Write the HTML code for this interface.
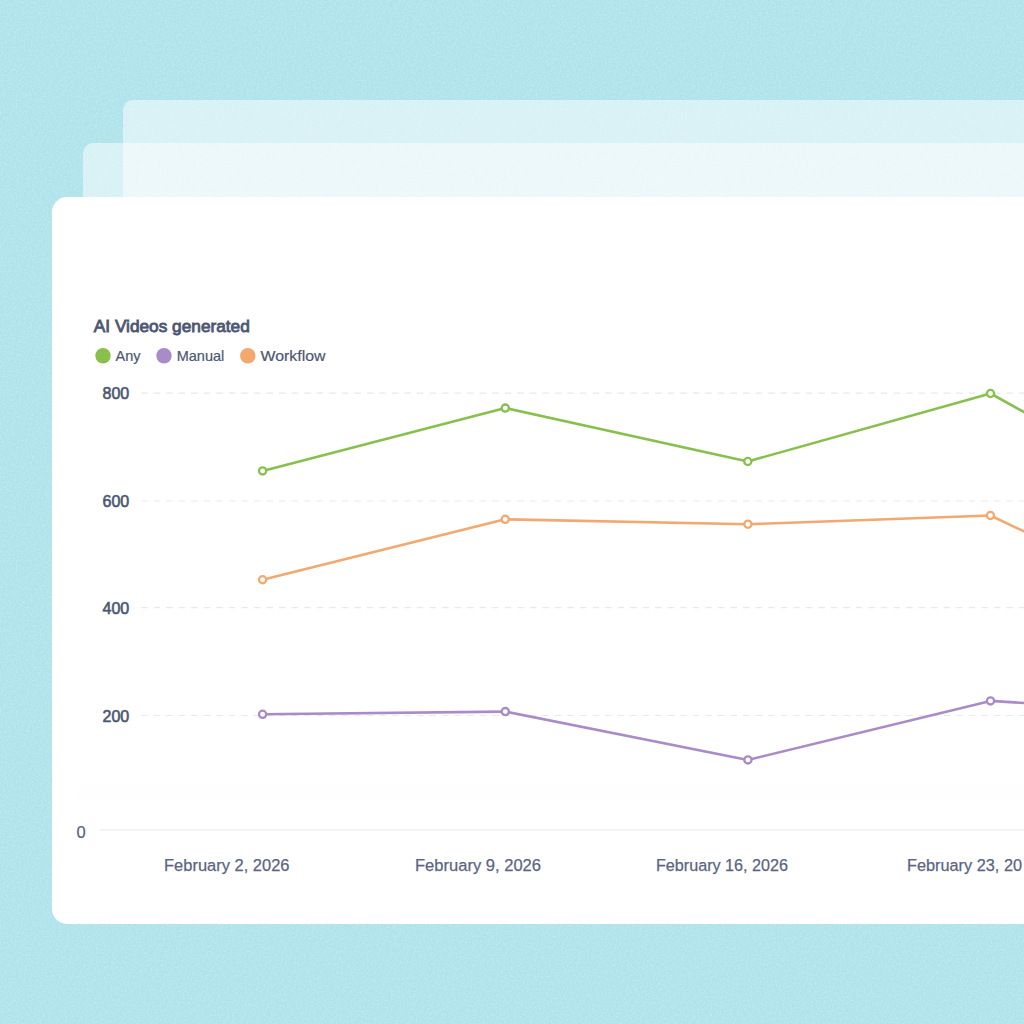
<!DOCTYPE html>
<html><head><meta charset="utf-8">
<style>
html,body{margin:0;padding:0;width:1024px;height:1024px;overflow:hidden;background:#afe3eb;font-family:"Liberation Sans",sans-serif;}
.bg{position:absolute;left:0;top:0;width:1024px;height:1024px;background:#afe3eb;}
.c2{position:absolute;left:123px;top:100px;width:1000px;height:300px;border-radius:10px;background:rgba(255,255,255,0.5);}
.c1{position:absolute;left:83px;top:143px;width:1000px;height:300px;border-radius:10px;background:rgba(255,255,255,0.5);}
.card{position:absolute;left:52px;top:197px;width:1100px;height:726.5px;border-radius:15px;background:#fff;}
svg{position:absolute;left:0;top:0;}
</style></head><body>
<div class="bg"></div>
<div class="c2"></div>
<div class="c1"></div>
<svg width="1024" height="1024" style="position:absolute;left:0;top:0">
  <filter id="nz" x="0" y="0" width="100%" height="100%">
    <feTurbulence type="fractalNoise" baseFrequency="0.55" numOctaves="2" seed="3" result="t"/>
    <feColorMatrix in="t" type="matrix" values="0 0 0 0 1  0 0 0 0 1  0 0 0 0 1  0.5 0 0 0 -0.2"/>
  </filter>
  <rect x="0" y="0" width="1024" height="1024" filter="url(#nz)"/>
</svg>
<div class="card"></div>
<svg width="1024" height="1024" viewBox="0 0 1024 1024">
  <!-- faint band -->
  <rect x="78" y="784" width="946" height="17" rx="6" fill="#000" opacity="0.003"/>
  <!-- grid -->
  <g stroke="#e9e9eb" stroke-width="1.2" stroke-dasharray="6.5 6.04" fill="none">
    <line x1="141.1" y1="393.2" x2="1024" y2="393.2"/>
    <line x1="141.1" y1="501" x2="1024" y2="501"/>
    <line x1="141.1" y1="607.6" x2="1024" y2="607.6"/>
    <line x1="141.1" y1="715.5" x2="1024" y2="715.5"/>
  </g>
  <line x1="99.8" y1="830" x2="1024" y2="830" stroke="#f1f3f7" stroke-width="2"/>
  <!-- title -->
  <text x="93.8" y="331.5" font-size="17.2" fill="#4c5773" stroke="#4c5773" stroke-width="0.85" textLength="156" lengthAdjust="spacingAndGlyphs">AI Videos generated</text>
  <!-- legend -->
  <circle cx="103" cy="355.8" r="7.7" fill="#88bf4d"/>
  <text x="115.5" y="361.3" font-size="14.5" fill="#4c5773" stroke="#4c5773" stroke-width="0.2">Any</text>
  <circle cx="164" cy="355.8" r="7.7" fill="#a98bc7"/>
  <text x="176.7" y="361.3" font-size="14.5" fill="#4c5773" stroke="#4c5773" stroke-width="0.2">Manual</text>
  <circle cx="247.8" cy="355.8" r="7.7" fill="#f2a86f"/>
  <text x="260.5" y="361.3" font-size="14.5" fill="#4c5773" stroke="#4c5773" stroke-width="0.2" textLength="65" lengthAdjust="spacingAndGlyphs">Workflow</text>
  <!-- y labels -->
  <g font-size="16" fill="#4c5773" stroke="#4c5773" stroke-width="0.6" text-anchor="end">
    <text x="129.2" y="399.3">800</text>
    <text x="129.2" y="506.6">600</text>
    <text x="129.2" y="613.9">400</text>
    <text x="129.2" y="721.9">200</text>
  </g>
  <text x="76.6" y="838.4" font-size="16.3" fill="#56607d" stroke="#56607d" stroke-width="0.2" textLength="9.2" lengthAdjust="spacingAndGlyphs">0</text>
  <!-- x labels -->
  <g font-size="16.8" fill="#5a6482" stroke="#5a6482" stroke-width="0.25">
    <text x="164" y="870.5" textLength="125.5" lengthAdjust="spacingAndGlyphs">February 2, 2026</text>
    <text x="415" y="870.5" textLength="126" lengthAdjust="spacingAndGlyphs">February 9, 2026</text>
    <text x="656" y="870.5" textLength="132" lengthAdjust="spacingAndGlyphs">February 16, 2026</text>
    <text x="907" y="870.5" textLength="115" lengthAdjust="spacingAndGlyphs">February 23, 20</text>
  </g>
  <!-- series -->
  <g fill="none" stroke-width="2.6" stroke-linejoin="round">
    <polyline stroke="#88bf4d" points="262.6,470.9 505.3,408.1 747.8,461.5 990.5,393.5 1040,421"/>
    <polyline stroke="#f2a86f" points="262.6,579.75 505.2,519.3 747.9,524.2 990.4,515.5 1040,539"/>
    <polyline stroke="#a98bc7" points="262.6,714.3 505.3,711.6 747.9,759.9 990.5,700.9 1040,704"/>
  </g>
  <g fill="#fff" stroke-width="2.3">
    <circle stroke="#88bf4d" cx="262.6" cy="470.9" r="3.6"/>
    <circle stroke="#88bf4d" cx="505.3" cy="408.1" r="3.6"/>
    <circle stroke="#88bf4d" cx="747.8" cy="461.5" r="3.6"/>
    <circle stroke="#88bf4d" cx="990.5" cy="393.5" r="3.6"/>
    <circle stroke="#f2a86f" cx="262.6" cy="579.75" r="3.6"/>
    <circle stroke="#f2a86f" cx="505.2" cy="519.3" r="3.6"/>
    <circle stroke="#f2a86f" cx="747.9" cy="524.2" r="3.6"/>
    <circle stroke="#f2a86f" cx="990.4" cy="515.5" r="3.6"/>
    <circle stroke="#a98bc7" cx="262.6" cy="714.3" r="3.6"/>
    <circle stroke="#a98bc7" cx="505.3" cy="711.6" r="3.6"/>
    <circle stroke="#a98bc7" cx="747.9" cy="759.9" r="3.6"/>
    <circle stroke="#a98bc7" cx="990.5" cy="700.9" r="3.6"/>
  </g>
</svg>
</body></html>
